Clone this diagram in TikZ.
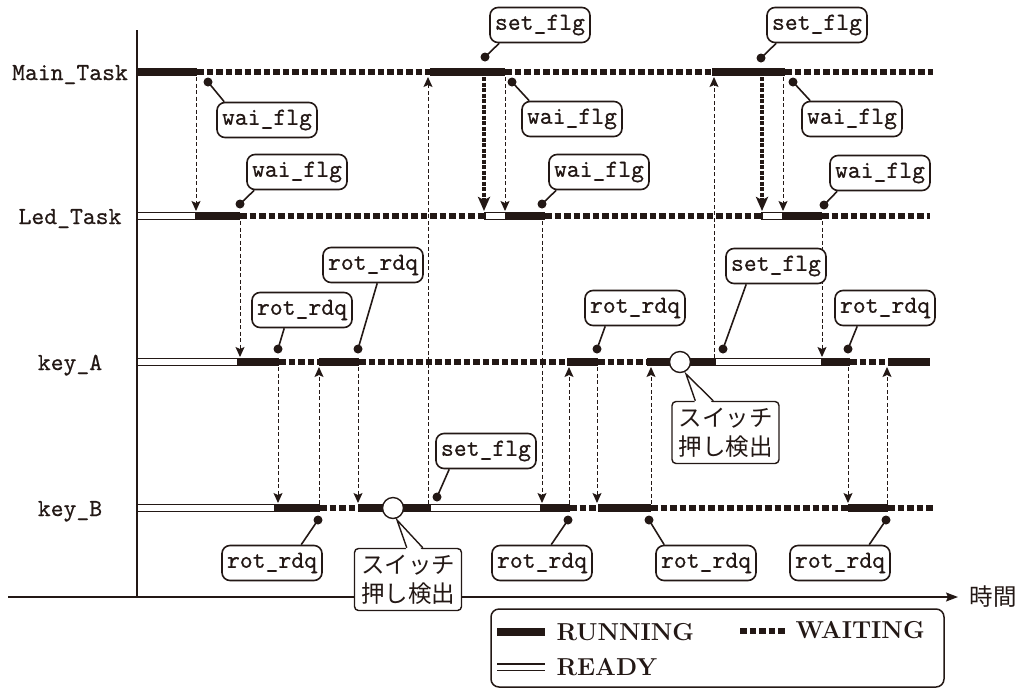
\documentclass[tikz,border=0pt]{standalone}
\usepackage{fontspec}
\newfontfamily\mytt{lmmono10-regular.otf}[FakeBold=0.5]
\newfontfamily\cjk{Noto Sans CJK JP}
\usetikzlibrary{arrows.meta,calc}
\definecolor{ink}{RGB}{35,24,21}
\newcommand\cbox[6]{%
  \node[call] (#1) at (#2) {#3};
  \coordinate (#1d) at (#4);
  \draw[ptr] (#1d) -- ($(#1.#5)+(#6,0)$);
  \fill[ink] (#1d) circle (4.5pt);}
\begin{document}
\begin{tikzpicture}[x=1pt,y=-1pt,
  run/.style={draw=ink, line width=8pt},
  wait/.style={draw=ink, line width=6.5pt, dash pattern=on 6.5pt off 3pt},
  readyr/.style={draw=ink, fill=white, line width=1.3pt},
  sig/.style={draw=ink, line width=1pt, dash pattern=on 4pt off 2.5pt, -{Stealth[length=10pt,width=9pt,inset=2pt]}},
  sigb/.style={draw=ink, line width=3.5pt, dash pattern=on 4pt off 1.5pt, -{Stealth[length=14pt,width=12pt,inset=3pt]}},
  call/.style={draw=ink, line width=1.6pt, rounded corners=8pt, fill=white, minimum width=100pt, minimum height=35pt, inner sep=0pt, text=ink, font=\mytt\fontsize{24.5}{28}\selectfont},
  jbox/.style={draw=ink, line width=1.4pt, rounded corners=4pt, fill=white, minimum width=107pt, minimum height=62pt, inner sep=0pt, align=center, text=ink, font=\cjk\fontsize{23.5}{29}\selectfont},
  ptr/.style={draw=ink, line width=1.6pt},
  tail/.style={draw=ink, line width=1.4pt},
  rowlab/.style={anchor=base, text=ink, font=\mytt\fontsize{24.5}{28}\selectfont},
  legtxt/.style={anchor=base west, text=ink, font=\bfseries\fontsize{24.5}{28}\selectfont},
  axis/.style={draw=ink, line width=1.3pt}]
\useasboundingbox (0,0) rectangle (1022,689);

% axes
\coordinate (vt) at (137,30);
\coordinate (vb) at (137,597);
\coordinate (hl) at (8,597);
\coordinate (hr) at (958,597);
\draw[axis] (vt) -- (vb);
\draw[axis, -{Stealth[length=12pt,width=9pt,inset=2pt]}] (hl) -- (hr);
\node[text=ink, font=\cjk\fontsize{23.5}{28}\selectfont, anchor=west] (time) at (966,597) {時間};

% row labels
\node[rowlab] (lmain) at (70,80) {Main\_Task};
\node[rowlab] (lled) at (70,224) {Led\_Task};
\node[rowlab] (lka) at (70,370) {key\_A};
\node[rowlab] (lkb) at (70,516) {key\_B};

% Main_Task  y=72
\draw[run] (137,72) -- (197,72);
\draw[wait] (197,72) -- (430,72);
\draw[run] (430,72) -- (505,72);
\draw[wait] (505,72) -- (712,72);
\draw[run] (712,72) -- (785,72);
\draw[wait] (785,72) -- (933,72);

% Led_Task  y=216
\draw[readyr] (137,212.2) rectangle (196,219.8);
\draw[run] (196,216) -- (240,216);
\draw[wait] (240,216) -- (485,216);
\draw[readyr] (485,212.2) rectangle (506,219.8);
\draw[run] (506,216) -- (545,216);
\draw[wait] (545,216) -- (762,216);
\draw[readyr] (762,212.2) rectangle (783,219.8);
\draw[run] (783,216) -- (822,216);
\draw[wait] (822,216) -- (930,216);

% key_A  y=362
\draw[readyr] (137,358.2) rectangle (238,365.8);
\draw[run] (238,362) -- (279,362);
\draw[wait] (279,362) -- (319,362);
\draw[run] (319,362) -- (359,362);
\draw[wait] (359,362) -- (567,362);
\draw[run] (567,362) -- (598,362);
\draw[wait] (598,362) -- (647,362);
\draw[run] (647,362) -- (715,362);
\draw[readyr] (715,358.2) rectangle (822,365.8);
\draw[run] (822,362) -- (850,362);
\draw[wait] (850,362) -- (888,362);
\draw[run] (888,362) -- (930,362);

% key_B  y=508
\draw[readyr] (137,504.2) rectangle (275,511.8);
\draw[run] (275,508) -- (320,508);
\draw[wait] (320,508) -- (358,508);
\draw[run] (358,508) -- (430,508);
\draw[readyr] (430,504.2) rectangle (541,511.8);
\draw[run] (541,508) -- (570,508);
\draw[wait] (570,508) -- (598,508);
\draw[run] (598,508) -- (651,508);
\draw[wait] (651,508) -- (848,508);
\draw[run] (848,508) -- (888,508);
\draw[wait] (888,508) -- (933,508);

% signal arrows
\coordinate (a1s) at (196,77);  \coordinate (a1e) at (196,211);
\coordinate (a2s) at (240,221); \coordinate (a2e) at (240,357);
\coordinate (a3s) at (428,504); \coordinate (a3e) at (428,77);
\coordinate (a4s) at (484,77);  \coordinate (a4e) at (484,211);
\coordinate (a5s) at (505,77);  \coordinate (a5e) at (505,211);
\coordinate (a6s) at (542,221); \coordinate (a6e) at (542,503);
\coordinate (a7s) at (569,504); \coordinate (a7e) at (569,367);
\coordinate (a8s) at (597,367); \coordinate (a8e) at (597,503);
\coordinate (a9s) at (651,504); \coordinate (a9e) at (651,367);
\coordinate (a10s) at (714,358); \coordinate (a10e) at (714,77);
\coordinate (a11s) at (762,77);  \coordinate (a11e) at (762,211);
\coordinate (a12s) at (783,77);  \coordinate (a12e) at (783,211);
\coordinate (a13s) at (822,221); \coordinate (a13e) at (822,357);
\coordinate (a14s) at (848,367); \coordinate (a14e) at (848,503);
\coordinate (a15s) at (887,504); \coordinate (a15e) at (887,367);
\coordinate (a16s) at (278,367); \coordinate (a16e) at (278,503);
\coordinate (a17s) at (319,504); \coordinate (a17e) at (319,367);
\coordinate (a18s) at (358,367); \coordinate (a18e) at (358,503);
\foreach \i in {1,2,3,5,6,7,8,9,10,12,13,14,15,16,17,18}
  \draw[sig] (a\i s) -- (a\i e);
\draw[sigb] (a4s) -- (a4e);
\draw[sigb] (a11s) -- (a11e);

% switch circles
\node[circle, draw=ink, fill=white, line width=1.4pt, minimum size=21pt, inner sep=0pt] (swa) at (680,362) {};
\node[circle, draw=ink, fill=white, line width=1.4pt, minimum size=21pt, inner sep=0pt] (swb) at (393,508) {};

% callouts
\cbox{mw1}{267,120}{wai\_flg}{208,82}{north west}{8}
\cbox{ms1}{540,25}{set\_flg}{485,57}{south west}{10}
\cbox{mw2}{572,119}{wai\_flg}{512,82}{north west}{8}
\cbox{ms2}{817,25}{set\_flg}{761,58}{south west}{10}
\cbox{mw3}{852,119}{wai\_flg}{793,82}{north west}{9}
\cbox{lw1}{297,172}{wai\_flg}{240,204}{south west}{8}
\cbox{lw2}{599,172}{wai\_flg}{542,204}{south west}{8}
\cbox{lw3}{880,173}{wai\_flg}{824,205}{south west}{8}
\cbox{ar1}{302,310}{rot\_rdq}{278,349}{south west}{33}
\cbox{ar2}{373,265}{rot\_rdq}{358,349}{south west}{55}
\cbox{ar3}{635,308}{rot\_rdq}{597,349}{south west}{21}
\cbox{as1}{776,266}{set\_flg}{723,349}{south west}{21}
\cbox{ar4}{885,308}{rot\_rdq}{848,349}{south west}{23}
\cbox{br1}{272,563}{rot\_rdq}{318,520}{north west}{80}
\cbox{bs1}{486,451}{set\_flg}{437,497}{south west}{14}
\cbox{br2}{542,563}{rot\_rdq}{568,520}{north west}{60}
\cbox{br3}{706,563}{rot\_rdq}{649,520}{north west}{9}
\cbox{br4}{840,563}{rot\_rdq}{886,520}{north west}{80}

% switch-detection callouts
\node[jbox] (ja) at (725.5,432.5) {スイッチ\\押し検出};
\coordinate (jat) at (686,374);
\fill[white] (jat) -- ($(ja.north west)+(24,3)$) -- ($(ja.north west)+(42,3)$) -- cycle;
\draw[tail] ($(ja.north west)+(24,0)$) -- (jat) -- ($(ja.north west)+(42,0)$);

\node[jbox] (jb) at (408,579.5) {スイッチ\\押し検出};
\coordinate (jbt) at (397,520);
\fill[white] (jbt) -- ($(jb.north west)+(53,3)$) -- ($(jb.north west)+(69,3)$) -- cycle;
\draw[tail] ($(jb.north west)+(53,0)$) -- (jbt) -- ($(jb.north west)+(69,0)$);

% legend
\node[draw=ink, line width=1.5pt, rounded corners=8pt, minimum width=453pt, minimum height=78pt, inner sep=0pt] (leg) at (717.5,648) {};
\draw[run, line width=8pt] (497,632) -- (545,632);
\node[legtxt] (trun) at (553,640) {RUNNING};
\draw[wait] (740,631) -- (785,631);
\node[legtxt] (twait) at (792,638) {WAITING};
\draw[ink, line width=1.3pt] (497,664) -- (545,664) (497,670.5) -- (545,670.5);
\node[legtxt] (tready) at (553,675) {READY};
\end{tikzpicture}
\end{document}
